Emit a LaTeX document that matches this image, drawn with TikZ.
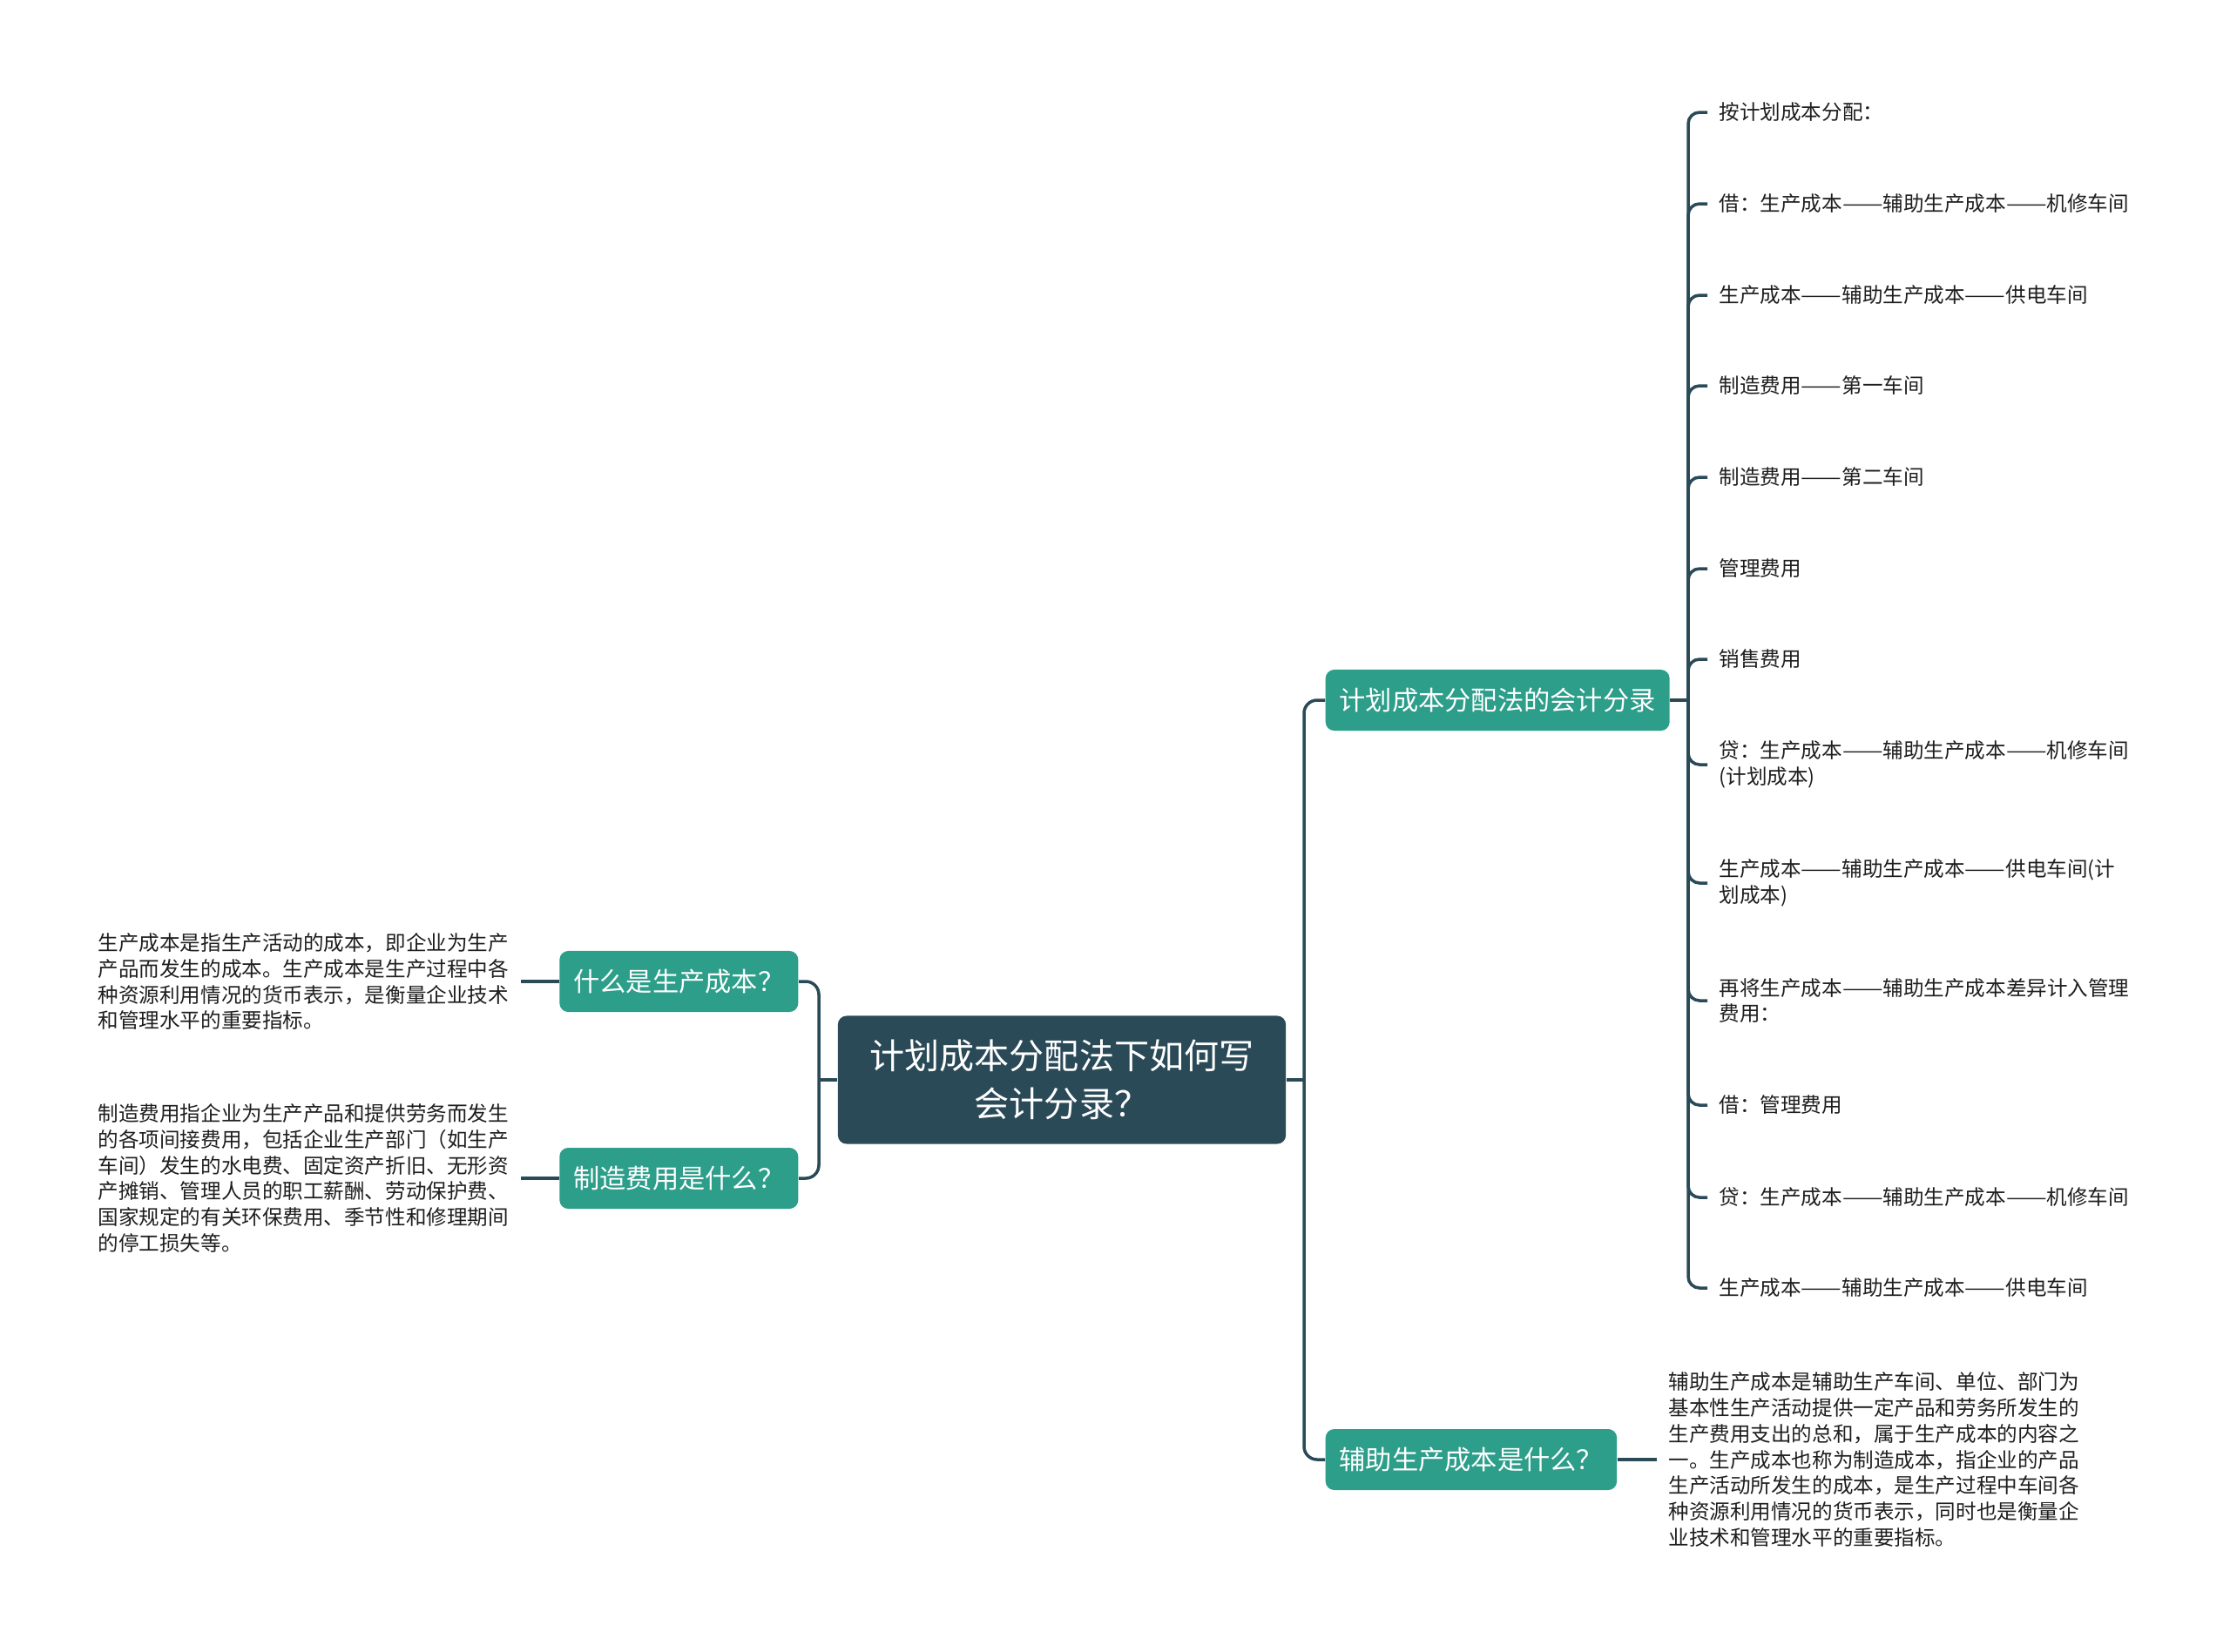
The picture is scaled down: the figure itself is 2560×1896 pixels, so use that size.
\documentclass[tikz,border=0pt]{standalone}
\usepackage{fontspec}
\setmainfont{Noto Sans CJK SC}
\usepackage{xcolor}
\usetikzlibrary{positioning}
\definecolor{rootblue}{RGB}{42,74,88}
\definecolor{branchteal}{RGB}{45,158,138}
\definecolor{leaftext}{RGB}{30,30,30}
\newcommand{\cdash}{\scalebox{1.18}[1]{——}}
\tikzset{
    root/.style={rectangle, rounded corners=1mm, fill=rootblue, text=white, minimum width=5.14cm, minimum height=1.47cm, align=center, font=\fontsize{11.4}{15.6}\selectfont},
    branch/.style={rectangle, rounded corners=1mm, fill=branchteal, text=white, minimum height=0.7cm, inner xsep=0.16cm, font=\fontsize{8.6}{10}\selectfont},
    leaf/.style={inner xsep=0.13cm, inner ysep=0pt, align=left, text=leaftext, font=\fontsize{6.7}{8.5}\selectfont},
    item/.style={leaf, anchor=west},
    link/.style={draw=rootblue, line width=1pt}
}

\begin{document}
\begin{tikzpicture}[x=0.01cm, y=-0.01cm]
    \useasboundingbox (0,0) rectangle (2560,1896);

    % 中心主题
    \node[root] (root) at (1219,1240) {计划成本分配法下如何写\\会计分录？};

    % 分支
    \node[branch, anchor=west] (b1) at (1521,804) {计划成本分配法的会计分录};
    \node[branch, anchor=west] (b2) at (1521,1676) {辅助生产成本是什么？};
    \node[branch, anchor=east] (l1) at (917,1127) {什么是生产成本？};
    \node[branch, anchor=east] (l2) at (917,1353) {制造费用是什么？};

    \coordinate (jl) at (940,1240);
    \coordinate (jr) at (1497,1240);
    \coordinate (jb) at (1938,804);

    % 说明文字
    \node[leaf, left=0.44cm of l1] (t1) {生产成本是指生产活动的成本，即企业为生产\\产品而发生的成本。生产成本是生产过程中各\\种资源利用情况的货币表示，是衡量企业技术\\和管理水平的重要指标。};
    \node[leaf, left=0.44cm of l2] (t2) {制造费用指企业为生产产品和提供劳务而发生\\的各项间接费用，包括企业生产部门（如生产\\车间）发生的水电费、固定资产折旧、无形资\\产摊销、管理人员的职工薪酬、劳动保护费、\\国家规定的有关环保费用、季节性和修理期间\\的停工损失等。};
    \node[leaf, right=0.45cm of b2] (t3) {辅助生产成本是辅助生产车间、单位、部门为\\基本性生产活动提供一定产品和劳务所发生的\\生产费用支出的总和，属于生产成本的内容之\\一。生产成本也称为制造成本，指企业的产品\\生产活动所发生的成本，是生产过程中车间各\\种资源利用情况的货币表示，同时也是衡量企\\业技术和管理水平的重要指标。};

    % 会计分录
    \node[item] (i1) at (1960,129) {按计划成本分配：};
    \node[item] (i2) at (1960,234) {借：生产成本\cdash 辅助生产成本\cdash 机修车间};
    \node[item] (i3) at (1960,339) {生产成本\cdash 辅助生产成本\cdash 供电车间};
    \node[item] (i4) at (1960,443) {制造费用\cdash 第一车间};
    \node[item] (i5) at (1960,548) {制造费用\cdash 第二车间};
    \node[item] (i6) at (1960,653) {管理费用};
    \node[item] (i7) at (1960,757) {销售费用};
    \node[item] (i8) at (1960,878) {贷：生产成本\cdash 辅助生产成本\cdash 机修车间\\(计划成本)};
    \node[item] (i9) at (1960,1014) {生产成本\cdash 辅助生产成本\cdash 供电车间(计\\划成本)};
    \node[item] (i10) at (1960,1149) {再将生产成本\cdash 辅助生产成本差异计入管理\\费用：};
    \node[item] (i11) at (1960,1269) {借：管理费用};
    \node[item] (i12) at (1960,1375) {贷：生产成本\cdash 辅助生产成本\cdash 机修车间};
    \node[item] (i13) at (1960,1479) {生产成本\cdash 辅助生产成本\cdash 供电车间};

    % 连线
    \draw[link] (root.east) -- (jr);
    \draw[link] (root.west) -- (jl);
    \draw[link, rounded corners=0.15cm] (b1.west) -| (jr) |- (b2.west);
    \draw[link, rounded corners=0.15cm] (l1.east) -| (jl) |- (l2.east);
    \draw[link] (l1.west) -- (t1.east);
    \draw[link] (l2.west) -- (t2.east);
    \draw[link] (b2.east) -- (t3.west);
    \draw[link] (b1.east) -- (jb);
    \draw[link, rounded corners=0.13cm] (jb) |- (i1.west);
    \draw[link, rounded corners=0.13cm] (jb) |- (i2.west);
    \draw[link, rounded corners=0.13cm] (jb) |- (i3.west);
    \draw[link, rounded corners=0.13cm] (jb) |- (i4.west);
    \draw[link, rounded corners=0.13cm] (jb) |- (i5.west);
    \draw[link, rounded corners=0.13cm] (jb) |- (i6.west);
    \draw[link, rounded corners=0.13cm] (jb) |- (i7.west);
    \draw[link, rounded corners=0.13cm] (jb) |- (i8.west);
    \draw[link, rounded corners=0.13cm] (jb) |- (i9.west);
    \draw[link, rounded corners=0.13cm] (jb) |- (i10.west);
    \draw[link, rounded corners=0.13cm] (jb) |- (i11.west);
    \draw[link, rounded corners=0.13cm] (jb) |- (i12.west);
    \draw[link, rounded corners=0.13cm] (jb) |- (i13.west);
\end{tikzpicture}
\end{document}
